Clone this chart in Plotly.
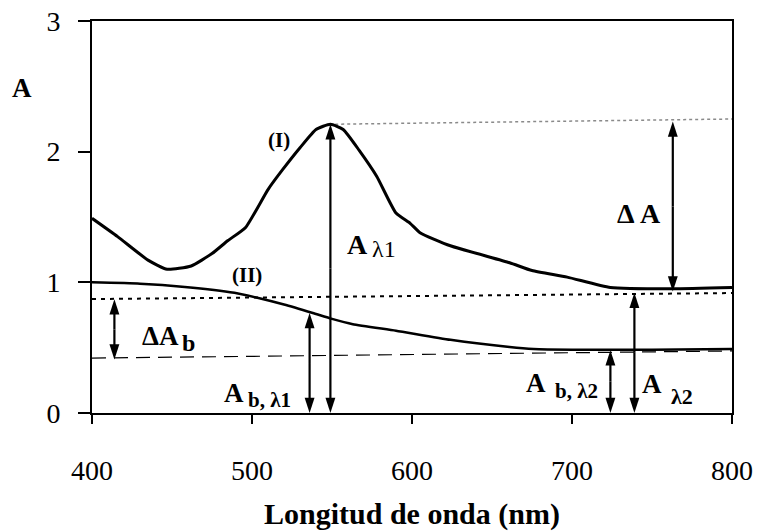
import plotly.graph_objects as go

# Curve (I): sample absorbance
wl_I = [400, 416, 435, 447, 462, 475, 485, 496, 510, 519, 530, 540, 549, 557, 567, 578,
        590, 599, 605, 624, 661, 675, 697, 724, 763, 800]
A_I = [1.49, 1.35, 1.17, 1.10, 1.125, 1.22, 1.32, 1.42, 1.71, 1.86, 2.03, 2.17, 2.21, 2.17,
       2.01, 1.81, 1.53, 1.45, 1.38, 1.28, 1.15, 1.09, 1.04, 0.96, 0.95, 0.96]

# Curve (II): blank absorbance
wl_II = [400, 430, 458, 489, 504, 520, 538, 550, 563, 590, 624, 661, 676, 700, 750, 800]
A_II = [1.0, 0.99, 0.965, 0.92, 0.88, 0.83, 0.765, 0.72, 0.68, 0.63, 0.56, 0.505, 0.49,
        0.485, 0.485, 0.49]

# Reference lines
dotted_x = [400, 800]
dotted_y = [0.872, 0.918]
dashed_x = [400, 800]
dashed_y = [0.42, 0.475]
gray_x = [552, 800]
gray_y = [2.21, 2.25]

# Double arrows: wavelength, lower A, upper A
arrows = [
    (549, 0.0, 2.21),    # A λ1
    (763, 0.93, 2.23),   # ΔA
    (414, 0.41, 0.87),   # ΔA_b
    (536, 0.0, 0.765),   # A_b,λ1
    (739, 0.0, 0.92),    # A λ2
    (724, 0.0, 0.48),    # A_b,λ2
]

# Text pieces: text, wavelength, A, font size, bold
labels = [
    ("(I)", 517, 2.09, 21, True),
    ("(II)", 497, 1.055, 21, True),
    ("A", 566, 1.29, 28, True),
    ("λ1", 582.5, 1.255, 24, False),
    ("Δ A", 742, 1.53, 28, True),
    ("ΔA", 443, 0.59, 27, True),
    ("b", 460, 0.535, 24, True),
    ("A", 489, 0.153, 27, True),
    ("b, λ1", 511, 0.10, 21, True),
    ("A", 677.5, 0.23, 27, True),
    ("b, λ2", 703, 0.17, 21, True),
    ("A", 750, 0.22, 27, True),
    ("λ2", 769, 0.13, 22, True),
]

x_ticks = [400, 500, 600, 700, 800]
y_ticks = [0, 1, 2, 3]

FONT = "Liberation Serif"

fig = go.Figure()
fig.add_trace(go.Scatter(x=gray_x, y=gray_y, mode="lines",
                         line=dict(color="#8a8a8a", width=1.5, dash="dot")))
fig.add_trace(go.Scatter(x=dotted_x, y=dotted_y, mode="lines",
                         line=dict(color="black", width=2, dash="4px,5px")))
fig.add_trace(go.Scatter(x=dashed_x, y=dashed_y, mode="lines",
                         line=dict(color="black", width=1.2, dash="14px,8px")))
fig.add_trace(go.Scatter(x=wl_I, y=A_I, mode="lines", line_shape="spline",
                         line=dict(color="black", width=3, smoothing=0.5)))
fig.add_trace(go.Scatter(x=wl_II, y=A_II, mode="lines", line_shape="spline",
                         line=dict(color="black", width=2.5, smoothing=0.5)))

for (xw, y0, y1) in arrows:
    mid = (y0 + y1) / 2
    for end in (y0, y1):
        fig.add_trace(go.Scatter(
            x=[xw, xw], y=[mid, end], mode="lines+markers",
            line=dict(color="rgb(0,0,0)", width=2.2),
            marker=dict(symbol="arrow", angleref="previous", size=[0, 16],
                        color="rgb(0,0,0)", opacity=1, line=dict(width=0)),
            opacity=1, cliponaxis=False))

for (t, xw, yv, fs, bold) in labels:
    fig.add_annotation(x=xw, y=yv, xref="x", yref="y",
                       text=f"<b>{t}</b>" if bold else t, showarrow=False,
                       xanchor="center", yanchor="middle",
                       font=dict(family=FONT, size=fs, color="black"))

fig.add_annotation(x=-0.109, y=0.829, xref="paper", yref="paper", text="<b>A</b>",
                   showarrow=False, xanchor="center", yanchor="middle",
                   font=dict(family=FONT, size=27, color="black"))

fig.update_layout(
    width=759, height=531,
    margin=dict(l=92, r=27, t=21, b=118),
    paper_bgcolor="white", plot_bgcolor="white",
    showlegend=False,
    font=dict(family=FONT, color="black"),
)
fig.update_xaxes(range=[400, 800], tickvals=x_ticks, ticktext=[str(v) for v in x_ticks],
                 showgrid=False, zeroline=False, showline=True, linecolor="black",
                 linewidth=2, mirror=True, ticks="outside", ticklen=9, tickwidth=1.5,
                 tickcolor="black", tickfont=dict(family=FONT, size=28),
                 ticklabelstandoff=22, automargin=False,
                 title=dict(text="<b>Longitud de onda (nm)</b>",
                            font=dict(family=FONT, size=30), standoff=22))
fig.update_yaxes(range=[0, 3], tickvals=y_ticks, showgrid=False, zeroline=False,
                 showline=True, linecolor="black", linewidth=2, mirror=True,
                 ticks="outside", ticklen=12, tickwidth=1.5, tickcolor="black",
                 tickfont=dict(family=FONT, size=28), ticklabelstandoff=12,
                 automargin=False)

fig.write_html("out.html")
